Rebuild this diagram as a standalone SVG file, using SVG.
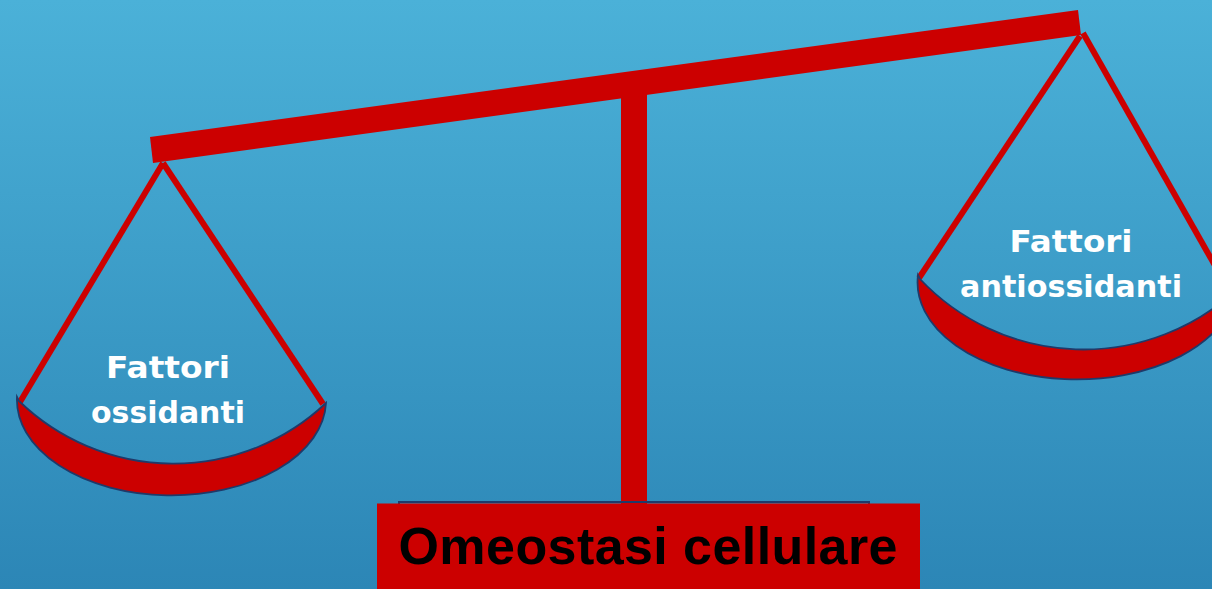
<svg xmlns="http://www.w3.org/2000/svg" width="1212" height="589" viewBox="0 0 1212 589">
<defs>
<linearGradient id="bg" x1="0" y1="0" x2="0" y2="1">
<stop offset="0" stop-color="#4bb1d8"/>
<stop offset="1" stop-color="#2c86b6"/>
</linearGradient>
<style>
.red{fill:#cc0000}
.hang{stroke:#cc0000;stroke-width:6;fill:none}
.pan{fill:#cc0000;stroke:#1f3a6a;stroke-width:1.8}
.lbl{font-family:"DejaVu Sans","Noto Sans",sans-serif;font-weight:bold;font-size:31px;fill:#ffffff;text-anchor:middle}
.title{font-family:"Liberation Sans",Arial,sans-serif;font-weight:bold;font-size:52px;fill:#000000;text-anchor:middle}
</style>
</defs>
<rect x="0" y="0" width="1212" height="589" fill="url(#bg)"/>
<g id="post">
<rect class="red" x="621" y="80" width="26" height="424"/>
</g>
<g id="beam">
<polygon class="red" points="150,137 1078,10 1081,35 153,163"/>
</g>
<g id="connectors">
<line class="hang" x1="163" y1="163" x2="20" y2="402"/>
<line class="hang" x1="163" y1="163" x2="323" y2="404"/>
<line class="hang" x1="1080" y1="36" x2="919" y2="278"/>
<line class="hang" x1="1083" y1="33" x2="1230" y2="292"/>
</g>
<g id="pan-left">
<path class="pan" d="M17,397 A154,95 0 0 0 326,403 A222,222 0 0 1 19,401 Z"/>
<text class="lbl" x="168" y="378" textLength="124" lengthAdjust="spacingAndGlyphs">Fattori</text>
<text class="lbl" x="168" y="423" textLength="154" lengthAdjust="spacingAndGlyphs">ossidanti</text>
</g>
<g id="pan-right">
<path class="pan" d="M918,275 A158,96 0 0 0 1236,290 A225,225 0 0 1 920,279 Z"/>
<text class="lbl" x="1071" y="252" textLength="123" lengthAdjust="spacingAndGlyphs">Fattori</text>
<text class="lbl" x="1071" y="297" textLength="222" lengthAdjust="spacingAndGlyphs">antiossidanti</text>
</g>
<g id="base">
<rect x="399" y="502" width="470" height="90" fill="none" stroke="#1f3a6a" stroke-width="2"/>
<rect class="red" x="377" y="503.5" width="543" height="86"/>
<text class="title" x="648" y="564" textLength="499">Omeostasi cellulare</text>
</g>
</svg>
